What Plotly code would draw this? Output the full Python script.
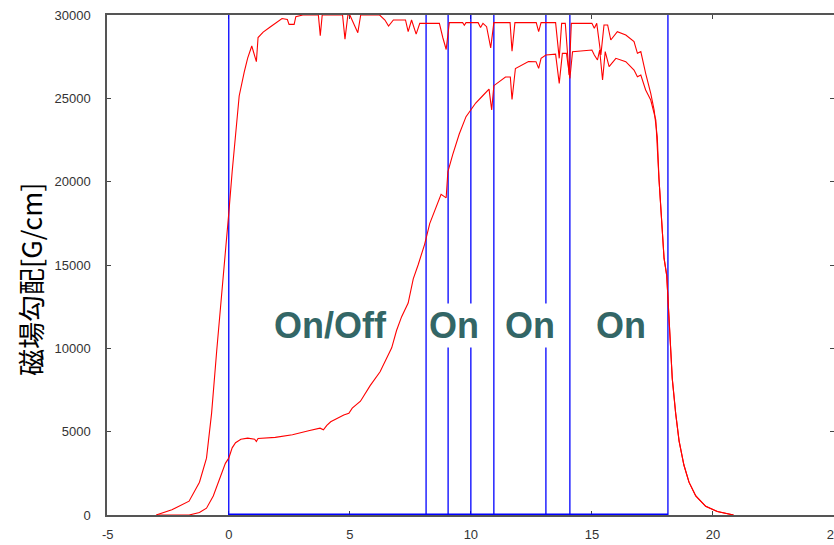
import plotly.graph_objects as go

# ---- data ----
outer_x = [-3.0, -2.35, -1.64, -1.21, -0.92, -0.71, -0.50, -0.28, -0.10, 0.0, 0.14, 0.28, 0.43, 0.64, 0.78,
           0.95, 1.07, 1.14, 1.21, 1.42, 1.71, 1.92, 2.20, 2.42, 2.49, 2.70, 2.77, 3.06, 3.70, 3.78, 3.86,
           4.70, 4.80, 4.92, 5.00, 5.33, 5.45, 6.23, 6.45, 6.60, 6.80, 7.30, 7.41, 7.55, 7.74, 7.89, 8.70,
           8.84, 8.98, 9.11, 9.66, 9.73, 9.80, 10.30, 10.40, 10.50, 10.65, 10.82, 10.95, 11.62, 11.70, 11.82,
           12.70, 12.80, 12.90, 13.50, 13.65, 13.75, 13.90, 14.06, 14.15, 15.00, 15.10, 15.20, 15.37, 15.50,
           15.65, 15.78, 16.05, 16.40, 16.74, 16.88, 17.02, 17.22, 17.43, 17.57, 17.70, 17.77, 17.88, 17.98,
           18.09, 18.19, 18.32, 18.46, 18.60, 18.80, 19.01, 19.29, 19.70, 20.18, 20.85]
outer_y = [0, 310, 830, 1970, 3410, 6100, 9830, 13340, 16450, 18100, 20590, 22660, 25140, 26590, 27410,
           28140, 27620, 27200, 28650, 28970, 29280, 29480, 29790, 29730, 29440, 29440, 29900, 30000, 30000, 28760, 30000,
           30000, 28550, 30000, 30000, 28940, 30000, 30000, 29700, 29340, 29700, 29700, 29000, 29700, 28850, 29500, 29500,
           28650, 27930, 29540, 29540, 29380, 29540, 29540, 29250, 29500, 29300, 28030, 29540, 29540, 27830, 29540,
           29540, 29000, 29540, 29540, 27400, 29500, 29500, 26400, 29500, 29500, 29200, 29500, 27600, 29400,
           29400, 28500, 29000, 28800, 28400, 27700, 27800, 26500, 25300, 24300, 22700, 20170, 17480, 15410,
           14380, 11480, 8170, 6100, 4450, 3000, 1970, 1140, 520, 210, 0]

inner_x = [-2.9, -1.64, -1.21, -0.92, -0.64, -0.36, -0.14, 0.0, 0.14, 0.28, 0.50, 0.78, 1.07, 1.14, 1.21,
           1.92, 2.63, 3.34, 3.77, 3.91, 4.05, 4.21, 4.75, 4.96, 5.10, 5.44, 5.84, 6.25, 6.59, 6.73, 6.93,
           7.14, 7.41, 7.62, 7.82, 8.09, 8.30, 8.57, 8.77, 8.98, 9.05, 9.25, 9.52, 9.80, 10.00, 10.20, 10.48,
           10.61, 10.75, 10.86, 10.95, 11.43, 11.63, 11.70, 11.84, 12.38, 12.69, 12.80, 12.90, 13.10, 13.50,
           13.65, 13.78, 13.95, 14.09, 14.20, 15.00, 15.10, 15.23, 15.32, 15.44, 15.55, 15.71, 15.99, 16.40,
           16.74, 16.88, 17.02, 17.22, 17.43, 17.64, 17.77, 17.88, 17.98, 18.09, 18.19, 18.32, 18.46, 18.60,
           18.80, 19.01, 19.29, 19.70, 20.18, 20.85]
inner_y = [0, 0, 145, 410, 1140, 2170, 3100, 3410, 4030, 4340, 4550, 4610, 4550, 4410, 4590,
           4660, 4820, 5070, 5210, 5110, 5380, 5590, 6000, 6100, 6410, 6830, 7760, 8590, 9620, 10030, 11070,
           11900, 12720, 14170, 15000, 16240, 17480, 18520, 19240, 19030, 20590, 21620, 22860, 23900, 24310, 24720, 25140,
           25340, 25550, 24310, 25760, 26280, 26280, 24930, 26790, 27210, 27200, 26800, 27400, 27600, 27650,
           25900, 27700, 27700, 26200, 27800, 27900, 27600, 27300, 27900, 26100, 27800, 26900, 27400, 27200,
           26700, 26300, 26400, 25500, 24900, 23700, 20170, 17480, 15410, 14380, 11480, 8170, 6100, 4450,
           3000, 1970, 1140, 520, 210, 0]

vline_x = [0, 8.15, 9.06, 10.0, 10.95, 13.1, 14.09, 18.14]
base_x = [0, 18.14]

labels = ["On/Off", "On", "On", "On"]
label_x = [4.2, 9.32, 12.45, 16.2]
label_y = [11400, 11400, 11400, 11400]

x_ticks = [-5, 0, 5, 10, 15, 20, 25]
y_ticks = [0, 5000, 10000, 15000, 20000, 25000, 30000]
y_title = "磁場勾配[G/cm]"

# ---- figure ----
fig = go.Figure()

vx, vy = [], []
for v in vline_x:
    vx += [v, v, None]
    vy += [0, 30000, None]
fig.add_trace(go.Scatter(x=vx, y=vy, mode="lines", line=dict(color="#0000FF", width=1.3),
                         hoverinfo="skip", showlegend=False))
fig.add_trace(go.Scatter(x=base_x, y=[0, 0], mode="lines", line=dict(color="#0000FF", width=3),
                         hoverinfo="skip", showlegend=False))
fig.add_trace(go.Scatter(x=outer_x, y=outer_y, mode="lines", line=dict(color="#FF0000", width=1.1),
                         showlegend=False))
fig.add_trace(go.Scatter(x=inner_x, y=inner_y, mode="lines", line=dict(color="#FF0000", width=1.1),
                         showlegend=False))

for t, x, y in zip(labels, label_x, label_y):
    fig.add_annotation(x=x, y=y, xref="x", yref="y", text=t, showarrow=False,
                       font=dict(family="Liberation Sans, Arial, sans-serif", size=36, color="#336666",
                                 weight="bold"),
                       bgcolor="white", borderpad=1)

fig.add_annotation(x=(30 - 107) / 727, y=0.47, xref="paper", yref="paper", text=y_title,
                   showarrow=False, textangle=-90, xanchor="center", yanchor="middle",
                   font=dict(family="Noto Sans CJK JP, sans-serif", size=27, color="#000000"))

axis_font = dict(family="Liberation Sans, Arial, sans-serif", size=13, color="#333333")
fig.update_layout(
    width=834, height=545,
    margin=dict(l=107, r=0, t=15, b=30, autoexpand=False),
    paper_bgcolor="white", plot_bgcolor="white",
    xaxis=dict(range=[-5.03, 25.0], tickvals=x_ticks, ticktext=[str(v) for v in x_ticks],
               ticks="inside", ticklen=4, tickcolor="#444444", mirror="ticks", showline=True,
               linecolor="#555555", linewidth=2, showgrid=False, zeroline=False,
               tickfont=axis_font, layer="below traces", ticklabelstandoff=6,
               ticklabeloverflow="allow", automargin=False),
    yaxis=dict(range=[0, 30000], tickvals=y_ticks, ticktext=[str(v) for v in y_ticks],
               ticks="inside", ticklen=4, tickcolor="#444444", mirror="ticks", showline=True,
               linecolor="#555555", linewidth=1.5, showgrid=False, zeroline=False,
               tickfont=axis_font, layer="below traces", ticklabelstandoff=12, automargin=False),
)

fig.write_html("out.html")
